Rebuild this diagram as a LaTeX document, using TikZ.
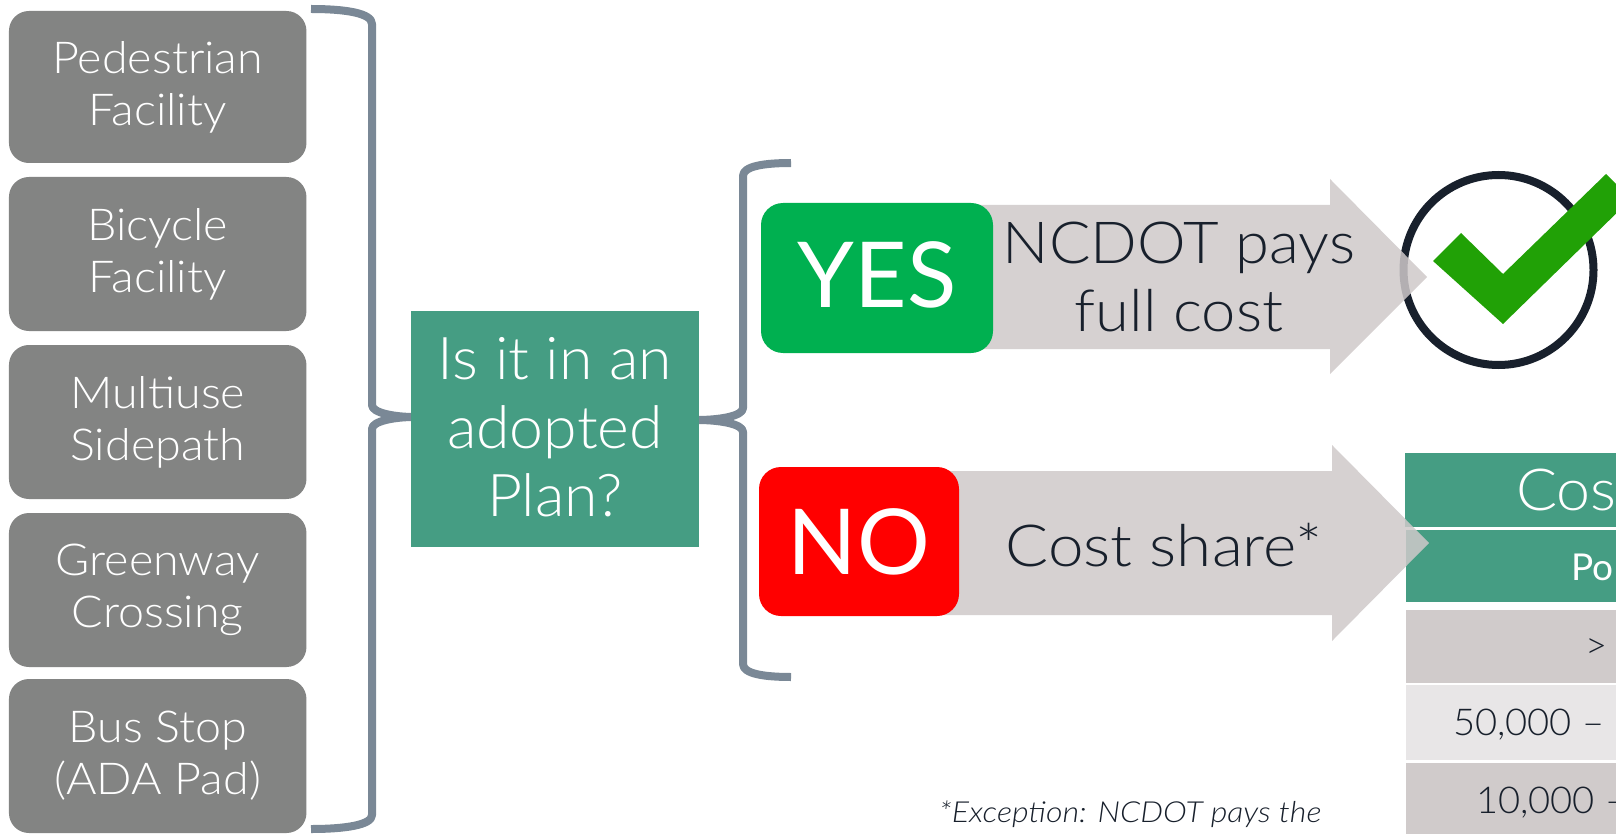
\documentclass[tikz,border=0pt]{standalone}
\usepackage{fontspec}
\setmainfont{Lato Light}[ItalicFont={Lato Light Italic}]
\newfontfamily\regfont{Lato}
\definecolor{boxgray}{HTML}{838483}
\definecolor{teal}{HTML}{459D83}
\definecolor{brace}{HTML}{7A8896}
\definecolor{ink}{HTML}{18202C}
\definecolor{arrowgray}{HTML}{CFC9CA}
\definecolor{rowdark}{HTML}{D0CBCB}
\definecolor{rowlight}{HTML}{E8E6E7}
\definecolor{yesgreen}{HTML}{00B050}
\definecolor{checkgreen}{HTML}{21A106}
\newcommand{\fs}[2]{\fontsize{#1}{#2}\selectfont}
\newcommand{\wide}[1]{\addfontfeature{FakeStretch=#1}}
\tikzset{
  item/.style={fill=boxgray,rounded corners=20pt,minimum width=297.5pt,inner sep=0pt,text=white,align=center,font=\fs{44}{52}\wide{1.06}},
  decision/.style={fill=teal,minimum width=288pt,minimum height=236pt,inner sep=0pt},
  decisiontext/.style={text=white,align=center,inner sep=0pt,font=\fs{59}{68.5}\wide{1.03}},
  answer/.style={rounded corners=22pt,inner sep=0pt,text=white,font=\regfont\fs{91}{91}},
  brk/.style={draw=brace,line width=8pt,line join=round},
  flow/.style={fill=arrowgray,fill opacity=.85},
  flowtext/.style={text=ink,align=center,inner sep=0pt,font=\fs{58}{68}\wide{1.06}},
  celltext/.style={anchor=base west,inner sep=0pt,text=ink,font=\fs{37}{37}\wide{1.03}},
}
\begin{document}
\begin{tikzpicture}[x=1pt,y=-1pt]
\useasboundingbox (0,0) rectangle (1616,834);
\clip (0,0) rectangle (1616,834);
\fill[white] (0,0) rectangle (1616,834);

% brackets
\coordinate (ba) at (311,9);
\coordinate (bb) at (372,24);
\coordinate (bc) at (372,405);
\coordinate (bt) at (414,417);
\coordinate (bd) at (372,429);
\coordinate (be) at (372,815);
\coordinate (bf) at (311,829);
\draw[brk] (ba) .. controls (345,9) and (372,13) .. (bb) -- (bc)
  .. controls (372,413) and (395,417) .. (bt)
  .. controls (395,417) and (372,421) .. (bd) -- (be)
  .. controls (372,825) and (345,829) .. (bf);
\coordinate (ca) at (791,163);
\coordinate (cb) at (743,176);
\coordinate (cc) at (743,408);
\coordinate (ct) at (697,420);
\coordinate (cd) at (743,432);
\coordinate (ce) at (743,664);
\coordinate (cf) at (791,677);
\draw[brk] (ca) .. controls (765,163) and (743,166) .. (cb) -- (cc)
  .. controls (743,416) and (720,420) .. (ct)
  .. controls (720,420) and (743,424) .. (cd) -- (ce)
  .. controls (743,674) and (765,677) .. (cf);

% left items
\node[item,minimum height=152pt] (ped) at (157.7,87) {Pedestrian\\Facility};
\node[item,minimum height=154pt] (bic) at (157.7,254) {Bicycle\\Facility};
\node[item,minimum height=154pt] (mul) at (157.7,422) {Multiuse\\Sidepath};
\node[item,minimum height=154pt] (gre) at (157.7,590) {Greenway\\Crossing};
\node[item,minimum height=154pt] (bus) at (157.7,756) {Bus Stop\\(ADA Pad)};

% decision
\node[decision] (dec) at (555,429) {};
\node[decisiontext] (dect) at (555,427.5) {Is it in an\\adopted\\Plan?};

% circle and table under the arrows
\node[draw=ink,line width=8pt,circle,minimum size=190pt,inner sep=0pt] (circ) at (1498.5,270) {};
\fill[teal] (1405,453) rectangle (1616,527);
\fill[teal] (1406,530) rectangle (1616,602);
\fill[rowdark] (1406,610) rectangle (1616,683);
\fill[rowlight] (1406,685) rectangle (1616,760);
\fill[rowdark] (1406,763) rectangle (1616,834);
\node[anchor=base west,inner sep=0pt,text=white,font=\fs{58}{58}\wide{1.05}] (hd1) at (1516,510) {Cos};
\node[anchor=base west,inner sep=0pt,text=white,font=\regfont\fs{37}{37}] (hd2) at (1571,580) {Po};
\node[celltext] (r1) at (1585,658) {>};
\node[celltext] (r2) at (1453,735) {50,000 –};
\node[celltext] (r3) at (1476,813) {10,000 –};

% arrows
\fill[flow] (940,205) -- (1330,205) -- (1330,179) -- (1427,277) -- (1330,374) -- (1330,349) -- (940,349) -- cycle;
\fill[flow] (920,471) -- (1332,471) -- (1332,445) -- (1429,543) -- (1332,641) -- (1332,615) -- (920,615) -- cycle;

% check
\fill[checkgreen] (1433,261) -- (1461,233) -- (1503,274) -- (1606,174) -- (1631,199) -- (1503,324) -- cycle;

% answers
\node[answer,fill=yesgreen,minimum width=232pt,minimum height=150pt] (yes) at (877,278) {};
\node[anchor=base,inner sep=0pt,text=white,font=\regfont\fs{91}{91}] (yest) at (877,307) {YES};
\node[answer,fill=red,minimum width=200pt,minimum height=149pt] (no) at (859,541.5) {NO};
\node[flowtext] (t1) at (1179,277) {NCDOT pays\\full cost};
\node[flowtext,anchor=base,font=\fs{58}{68}\wide{1.10}] (t2) at (1164,566) {Cost share*};
\node[anchor=base west,inner sep=0pt,text=ink,font=\itshape\fs{29}{29}\wide{1.11}] (note) at (939,822) {*Exception: NCDOT pays the};
\end{tikzpicture}
\end{document}
